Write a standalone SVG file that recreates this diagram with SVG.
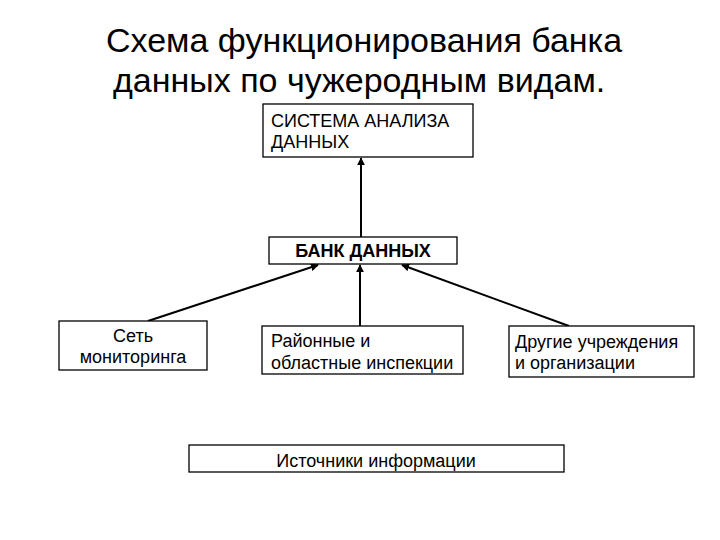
<svg xmlns="http://www.w3.org/2000/svg" width="720" height="540" viewBox="0 0 720 540">
<style>
  .box { fill: #ffffff; stroke: #000000; stroke-width: 1.3; }
  .t { font-family: "Liberation Sans", Arial, sans-serif; font-size: 18px; fill: #000000; }
  .title { font-family: "Liberation Sans", Arial, sans-serif; font-size: 34px; fill: #000000; }
  .conn { stroke: #000000; stroke-width: 2; fill: none; marker-end: url(#arr); }
</style>
<defs>
  <marker id="arr" viewBox="0 0 10 10" refX="9" refY="5" markerWidth="4" markerHeight="4" orient="auto" markerUnits="strokeWidth">
    <path d="M0,0 L10,5 L0,10 z" fill="#000000"/>
  </marker>
</defs>
<rect width="720" height="540" fill="#ffffff"/>
<g id="title">
  <text class="title" x="106" y="52">Схема функционирования банка</text>
  <text class="title" x="113" y="92">данных по чужеродным видам.</text>
</g>
<g id="connectors">
  <line class="conn" x1="361" y1="237" x2="361" y2="158"/>
  <line class="conn" x1="148" y1="321" x2="318" y2="265"/>
  <line class="conn" x1="360" y1="326" x2="360" y2="265"/>
  <line class="conn" x1="569" y1="326" x2="402" y2="265"/>
</g>
<g id="node-sistema">
  <rect class="box" x="263" y="104" width="210" height="53"/>
  <text class="t" x="271" y="127">СИСТЕМА АНАЛИЗА</text>
  <text class="t" x="271" y="148">ДАННЫХ</text>
</g>
<g id="node-bank">
  <rect class="box" x="269" y="237" width="188" height="27"/>
  <text class="t" x="363" y="257" text-anchor="middle" font-weight="bold">БАНК ДАННЫХ</text>
</g>
<g id="node-set">
  <rect class="box" x="59" y="321" width="148" height="49"/>
  <text class="t" x="133" y="342" text-anchor="middle">Сеть</text>
  <text class="t" x="133" y="363" text-anchor="middle">мониторинга</text>
</g>
<g id="node-rayon">
  <rect class="box" x="262" y="326" width="201" height="48"/>
  <text class="t" x="271" y="347">Районные и</text>
  <text class="t" x="271" y="369">областные инспекции</text>
</g>
<g id="node-drugie">
  <rect class="box" x="509" y="326" width="185" height="51"/>
  <text class="t" x="515" y="348">Другие учреждения</text>
  <text class="t" x="515" y="369">и организации</text>
</g>
<g id="node-istochniki">
  <rect class="box" x="189" y="445" width="375" height="27"/>
  <text class="t" x="376" y="467" text-anchor="middle">Источники информации</text>
</g>
</svg>
